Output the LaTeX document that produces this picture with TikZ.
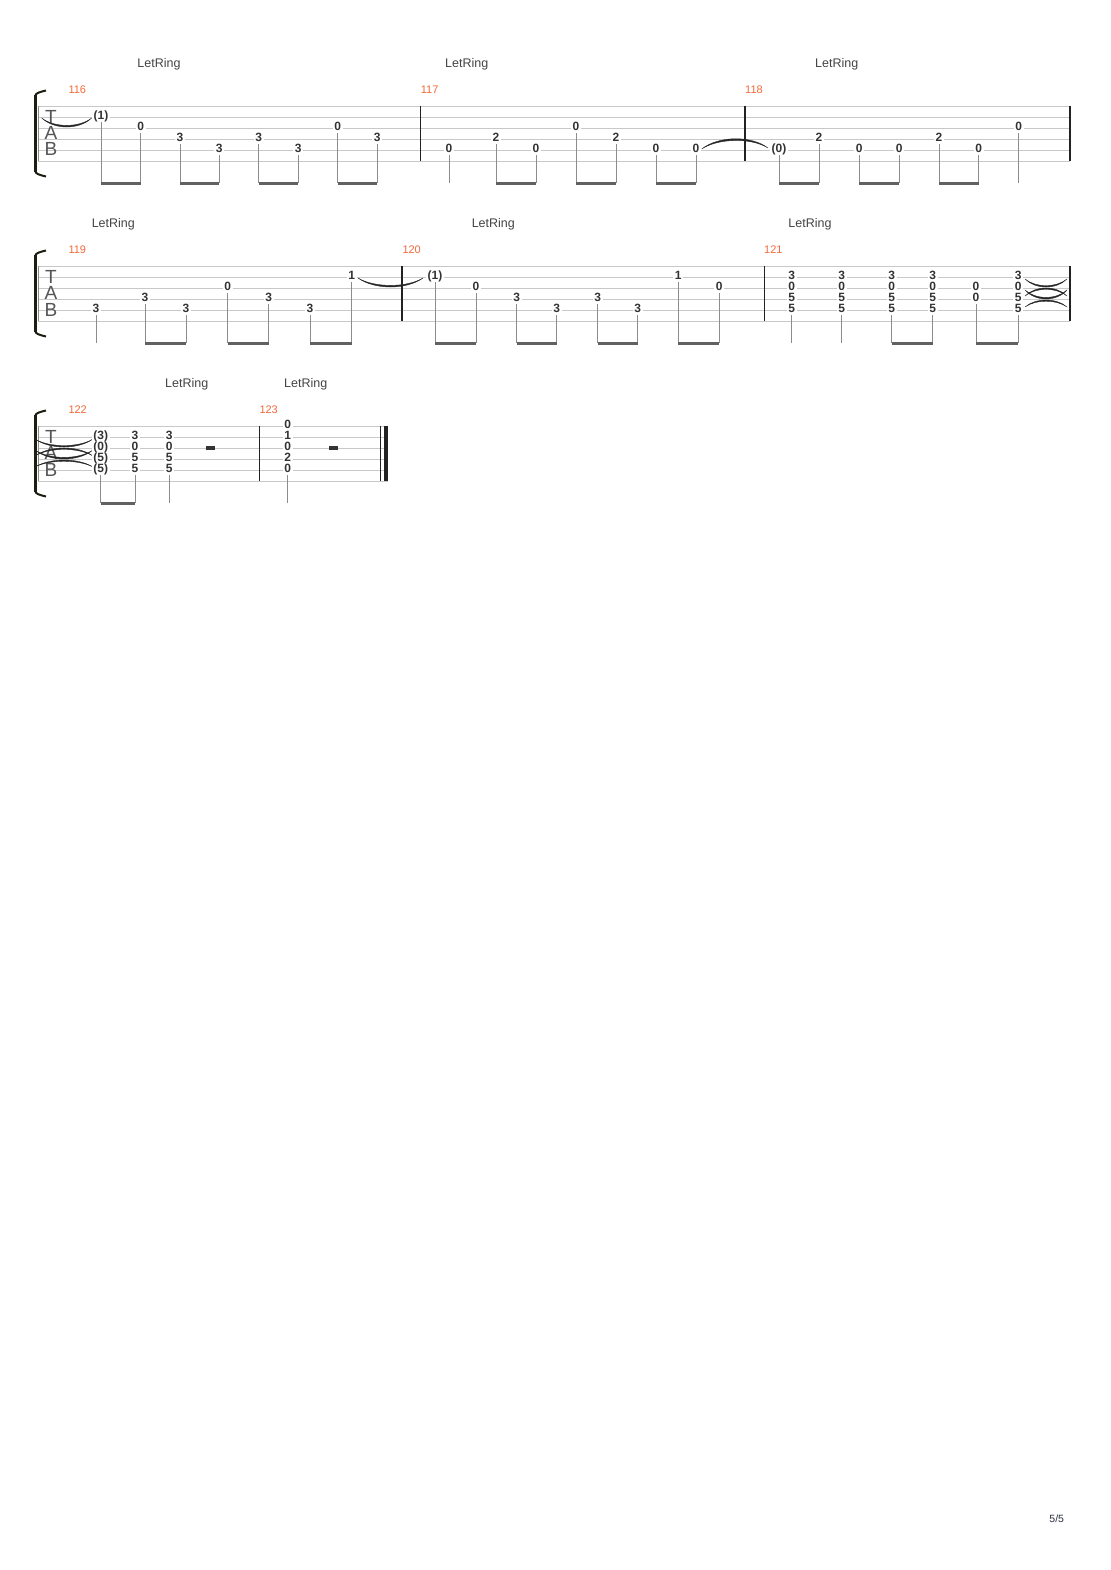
\documentclass[tikz,border=0pt]{standalone}
\usepackage{fontspec}
\setmainfont{Liberation Sans}
\usetikzlibrary{calc}
\definecolor{staffc}{HTML}{C8C8C8}
\definecolor{numc}{HTML}{333333}
\definecolor{barc}{HTML}{222222}
\definecolor{stemc}{HTML}{8C8C8C}
\definecolor{beamc}{HTML}{616161}
\definecolor{mnumc}{HTML}{F5693A}
\definecolor{lrc}{HTML}{444444}
\definecolor{brc}{HTML}{1E1E10}
\definecolor{tabc}{HTML}{555555}
\definecolor{pgc}{HTML}{2B3040}
\newcommand\nt[4]{\node[note] (#1) at (#2,{#3-2}) {#4};}
\newcommand\chq[7]{\nt{#1a}{#2}{#3}{#4}\nt{#1b}{#2}{#3+11}{#5}\nt{#1c}{#2}{#3+22}{#6}\nt{#1d}{#2}{#3+33}{#7}}
\newcommand\stm[2]{\draw[stemline] ([yshift=-2pt]#1.south) -- (#1.south |- #2);}
\newcommand\bm[3]{\stm{#1}{#3}\stm{#2}{#3}\draw[beamline] (#1.south |- #3) -- (#2.south |- #3);}
\newcommand\tiearc[3]{\fill[tiefill] (#1) .. controls ($(#1)!0.25!(#2)+(0,#3)$) and ($(#1)!0.75!(#2)+(0,#3)$) .. (#2) .. controls ($(#1)!0.75!(#2)+(0,0.82*#3)$) and ($(#1)!0.25!(#2)+(0,0.82*#3)$) .. (#1) -- cycle;}
\newcommand\staff[3]{\foreach \i in {0,...,5}{\draw[staffline] (#2,{#1+11*\i}) -- (#3,{#1+11*\i});}}
\newcommand\brk[1]{%
 \fill[brc] (33.8,{#1-11}) rectangle (36.8,{#1+66});
 \draw[brc,line width=2pt] (35.3,{#1-10}) .. controls (35.3,{#1-13}) and (40,{#1-14}) .. (46,{#1-15.5});
 \draw[brc,line width=2pt] (35.3,{#1+65}) .. controls (35.3,{#1+68}) and (40,{#1+69}) .. (46,{#1+70.5});
 \draw[draw=black!45,line width=0.8pt] (38.3,#1) -- (38.3,{#1+55});
 \node[tabletter,anchor=base] at (51,{#1+17.3}) {T};
 \node[tabletter,anchor=base] at (51,{#1+33.3}) {A};
 \node[tabletter,anchor=base] at (51,{#1+50}) {B};}
\begin{document}
\begin{tikzpicture}[x=1pt,y=-1pt,
 staffline/.style={draw=staffc,line width=0.9pt},
 barline/.style={draw=barc,line width=1.1pt},
 note/.style={font=\bfseries\fontsize{12}{12}\selectfont,text=numc,fill=white,inner xsep=1.8pt,inner ysep=0.6pt,text height=8.6pt,text depth=0pt},
 stemline/.style={draw=stemc,line width=1pt},
 beamline/.style={draw=beamc,line width=3pt,line cap=butt},
 tiefill/.style={fill=black!85,draw=black!85,line width=0.35pt},
 mnum/.style={font=\fontsize{11}{11}\selectfont,text=mnumc,anchor=west,inner sep=0pt},
 letring/.style={font=\fontsize{12.5}{12.5}\selectfont,text=lrc,inner sep=0pt},
 tabletter/.style={font=\fontsize{19}{19}\selectfont,text=tabc,inner sep=0pt},
 restbox/.style={fill=numc,minimum width=9pt,minimum height=4pt,inner sep=0pt},
]
\fill[white] (0,0) rectangle (1110,1570);
\useasboundingbox (0,0) rectangle (1110,1570);

% ---------- staves ----------
\staff{106}{38}{1070}
\staff{266}{38}{1070}
\staff{426}{38}{388.3}
\brk{106}\brk{266}\brk{426}

% barlines
\draw[barline] (420.7,106) -- (420.7,161);
\draw[barline] (745,106) -- (745,161);
\draw[barline] (1070,106) -- (1070,161);
\draw[barline] (402,266) -- (402,321);
\draw[barline] (764.5,266) -- (764.5,321);
\draw[barline] (1070,266) -- (1070,321);
\draw[barline] (259.3,426) -- (259.3,481);
\draw[barline] (380.7,426) -- (380.7,481);
\fill[barc] (384,426) rectangle (388.3,481);

% beam levels
\coordinate (bA) at (0,183.3);
\coordinate (bB) at (0,343.3);
\coordinate (bC) at (0,503.3);

% ---------- labels ----------
\node[mnum] (m116) at (68.3,90) {116};
\node[mnum] (m117) at (420.7,90) {117};
\node[mnum] (m118) at (745,90) {118};
\node[mnum] (m119) at (68.3,250) {119};
\node[mnum] (m120) at (402.3,250) {120};
\node[mnum] (m121) at (764,250) {121};
\node[mnum] (m122) at (68.3,410) {122};
\node[mnum] (m123) at (259.3,410) {123};
\node[letring] (lr1) at (159,64) {LetRing};
\node[letring] (lr2) at (466.7,64) {LetRing};
\node[letring] (lr3) at (836.7,64) {LetRing};
\node[letring] (lr4) at (113.3,224) {LetRing};
\node[letring] (lr5) at (493.3,224) {LetRing};
\node[letring] (lr6) at (810,224) {LetRing};
\node[letring] (lr7) at (186.7,384) {LetRing};
\node[letring] (lr8) at (305.7,384) {LetRing};

% ---------- system 1 ----------
\nt{a1}{101}{117}{(1)}\nt{a2}{140.7}{128}{0}\nt{a3}{180}{139}{3}\nt{a4}{219.3}{150}{3}
\nt{a5}{258.7}{139}{3}\nt{a6}{298.3}{150}{3}\nt{a7}{337.7}{128}{0}\nt{a8}{377.3}{139}{3}
\bm{a1}{a2}{bA}\bm{a3}{a4}{bA}\bm{a5}{a6}{bA}\bm{a7}{a8}{bA}
\nt{b1}{449}{150}{0}\nt{b2}{496}{139}{2}\nt{b3}{536}{150}{0}\nt{b4}{576}{128}{0}
\nt{b5}{616}{139}{2}\nt{b6}{656}{150}{0}\nt{b7}{696}{150}{0}
\stm{b1}{bA}\bm{b2}{b3}{bA}\bm{b4}{b5}{bA}\bm{b6}{b7}{bA}
\nt{c1}{779}{150}{(0)}\nt{c2}{819}{139}{2}\nt{c3}{859.3}{150}{0}\nt{c4}{899.3}{150}{0}
\nt{c5}{939}{139}{2}\nt{c6}{978.7}{150}{0}\nt{c7}{1018.7}{128}{0}
\bm{c1}{c2}{bA}\bm{c3}{c4}{bA}\bm{c5}{c6}{bA}\stm{c7}{bA}
\coordinate (t1s) at (41.7,118); \coordinate (t1e) at (91.7,118);
\tiearc{t1s}{t1e}{12}
\coordinate (t2s) at (701.7,149); \coordinate (t2e) at (768,148);
\tiearc{t2s}{t2e}{-13}

% ---------- system 2 ----------
\nt{d1}{96}{310}{3}\nt{d2}{145}{299}{3}\nt{d3}{186}{310}{3}\nt{d4}{227.7}{288}{0}
\nt{d5}{268.7}{299}{3}\nt{d6}{310}{310}{3}\nt{d7}{351.7}{277}{1}
\stm{d1}{bB}\bm{d2}{d3}{bB}\bm{d4}{d5}{bB}\bm{d6}{d7}{bB}
\nt{e1}{435}{277}{(1)}\nt{e2}{476}{288}{0}\nt{e3}{516.7}{299}{3}\nt{e4}{556.7}{310}{3}
\nt{e5}{597.7}{299}{3}\nt{e6}{637.7}{310}{3}\nt{e7}{678.3}{277}{1}\nt{e8}{719.3}{288}{0}
\bm{e1}{e2}{bB}\bm{e3}{e4}{bB}\bm{e5}{e6}{bB}\bm{e7}{e8}{bB}
\coordinate (t3s) at (358,278); \coordinate (t3e) at (423,278);
\tiearc{t3s}{t3e}{12}
\chq{f1}{791.7}{277}{3}{0}{5}{5}
\chq{f2}{841.7}{277}{3}{0}{5}{5}
\chq{f3}{891.7}{277}{3}{0}{5}{5}
\chq{f4}{932.7}{277}{3}{0}{5}{5}
\nt{f5b}{976}{288}{0}\nt{f5c}{976}{299}{0}
\chq{f6}{1018.3}{277}{3}{0}{5}{5}
\stm{f1d}{bB}\stm{f2d}{bB}\bm{f3d}{f4d}{bB}\bm{f5c}{f6d}{bB}
\coordinate (u1s) at (1025,279); \coordinate (u1e) at (1067,279);
\coordinate (u2s) at (1025,296); \coordinate (u2e) at (1067,296);
\coordinate (u3s) at (1025,290); \coordinate (u3e) at (1067,290);
\coordinate (u4s) at (1025,307); \coordinate (u4e) at (1067,307);
\tiearc{u1s}{u1e}{10.7}\tiearc{u2s}{u2e}{-10.7}\tiearc{u3s}{u3e}{12}\tiearc{u4s}{u4e}{-9.3}

% ---------- system 3 ----------
\coordinate (v1s) at (35,439); \coordinate (v1e) at (93,439);
\coordinate (v2s) at (35,456); \coordinate (v2e) at (93,456);
\coordinate (v3s) at (35,450); \coordinate (v3e) at (93,450);
\coordinate (v4s) at (35,467); \coordinate (v4e) at (93,467);
\tiearc{v1s}{v1e}{10.7}\tiearc{v2s}{v2e}{-10.7}\tiearc{v3s}{v3e}{12}\tiearc{v4s}{v4e}{-9.3}
\chq{g1}{100.7}{437}{(3)}{(0)}{(5)}{(5)}
\chq{g2}{135}{437}{3}{0}{5}{5}
\chq{g3}{169.3}{437}{3}{0}{5}{5}
\bm{g1d}{g2d}{bC}\stm{g3d}{bC}
\node[restbox] (r1) at (210,448) {};
\nt{h0}{287.7}{426}{0}
\chq{h}{287.7}{437}{1}{0}{2}{0}
\stm{hd}{bC}
\node[restbox] (r2) at (333,448) {};

% page number
\node[font=\fontsize{10.5}{10.5}\selectfont,text=pgc,inner sep=0pt] (pg) at (1056.7,1519) {5/5};
\end{tikzpicture}
\end{document}
